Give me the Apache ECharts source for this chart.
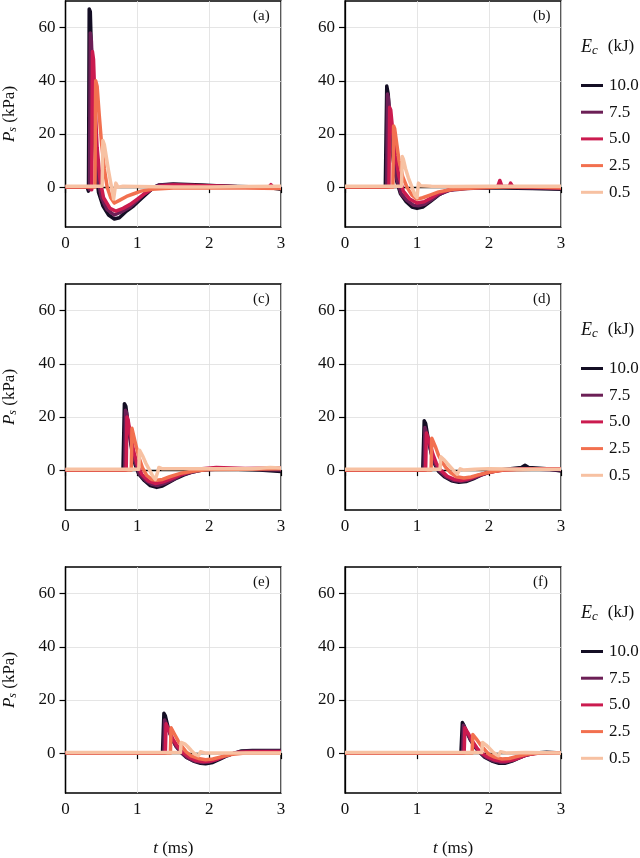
<!DOCTYPE html>
<html>
<head>
<meta charset="utf-8">
<script src="https://cdn.jsdelivr.net/npm/echarts@6/dist/echarts.min.js"></script>
<style>
  html, body { margin: 0; padding: 0; background: #fff; }
  #main { width: 640px; height: 858px; }
</style>
</head>
<body>
<div id="main"></div>
<script>
// energy levels (kJ) and colours
var energies = ['10.0', '7.5', '5.0', '2.5', '0.5'];
var colors = ['#140e24', '#6c1f56', '#cb1b4f', '#f2704f', '#f7c1a2'];
var panelLabels = ['(a)', '(b)', '(c)', '(d)', '(e)', '(f)'];
var xTicks = [0, 1, 2, 3];
var yTicks = [0, 20, 40, 60];

// (a) [t ms, Ps kPa]
var a10 = [[0,0],[0.30,0],[0.32,-1.5],[0.33,67],[0.345,66],[0.37,42],[0.40,20],[0.43,5],[0.46,-2],[0.52,-7],[0.6,-10.5],[0.68,-12],[0.75,-11.5],[0.85,-9],[0.95,-7],[1.05,-4.5],[1.15,-2],[1.22,-0.3],[1.3,0.8],[1.5,1.2],[1.7,1],[1.9,0.8],[2.1,0.5],[2.4,0.2],[2.7,0],[2.9,-0.4],[3,-0.8]];
var a75 = [[0,0],[0.32,0],[0.335,-1],[0.345,58],[0.36,55],[0.39,33],[0.42,14],[0.45,3],[0.5,-4],[0.58,-8.5],[0.68,-10.5],[0.8,-9],[0.9,-7.5],[1.0,-5],[1.1,-2.5],[1.2,-0.5],[1.3,0.8],[1.5,1],[1.8,0.6],[2.1,0.4],[2.5,0],[2.9,-0.2],[3,-0.5]];
var a50 = [[0,0],[0.355,0],[0.365,-1],[0.375,51],[0.39,48],[0.41,32],[0.44,15],[0.48,3],[0.53,-4],[0.62,-8],[0.7,-9],[0.8,-8],[0.9,-6.5],[1.0,-4.5],[1.1,-2.5],[1.2,-0.8],[1.3,0.3],[1.5,0.8],[2.0,0.5],[2.5,0],[2.83,0],[2.86,0.9],[2.89,0],[3,-0.3]];
var a25 = [[0,0],[0.41,0],[0.42,40],[0.44,38],[0.47,27],[0.5,17],[0.54,7],[0.58,0],[0.63,-4],[0.68,-6],[0.75,-5],[0.85,-3.5],[0.95,-2.5],[1.05,-1.5],[1.2,-0.8],[1.5,-0.3],[2.0,-0.3],[2.5,-0.3],[3,-0.5]];
var a05 = [[0,0.3],[0.51,0.3],[0.52,17.5],[0.54,16],[0.57,11],[0.6,6],[0.63,1.5],[0.67,-4.5],[0.7,1.5],[0.73,0],[0.8,0.3],[1.0,0.2],[1.5,0],[2.0,0],[2.5,0.2],[3,0.3]];

// (b)
var b10 = [[0,0],[0.56,0],[0.57,-0.5],[0.58,38],[0.6,35],[0.63,22],[0.67,10],[0.72,2],[0.77,-2.5],[0.85,-5.5],[0.93,-7.5],[1.0,-8],[1.08,-7.5],[1.18,-5.5],[1.3,-3],[1.4,-1.5],[1.55,-0.5],[1.8,-0.2],[2.2,-0.3],[2.6,-0.5],[3,-0.8]];
var b75 = [[0,0],[0.58,0],[0.59,35],[0.6,34],[0.63,25],[0.67,12],[0.72,3],[0.78,-2.5],[0.86,-5],[0.95,-6.8],[1.02,-7],[1.1,-6.5],[1.2,-4.8],[1.3,-2.8],[1.45,-1.2],[1.7,-0.5],[2.2,0],[2.6,-0.3],[3,-0.5]];
var b50 = [[0,0],[0.61,0],[0.62,30],[0.635,29],[0.66,22],[0.7,12],[0.75,4],[0.81,-1.5],[0.9,-4.5],[1.0,-6],[1.1,-5.5],[1.2,-4],[1.3,-2.3],[1.45,-1],[1.7,-0.3],[2.12,0.2],[2.15,2.5],[2.18,0.3],[2.28,0.2],[2.3,1.5],[2.33,0.2],[2.6,0],[3,-0.3]];
var b25 = [[0,0],[0.665,0],[0.675,23],[0.69,22],[0.72,16],[0.75,10],[0.8,4],[0.86,0],[0.93,-3],[1.0,-4.5],[1.08,-4],[1.18,-3],[1.3,-1.8],[1.5,-0.8],[1.8,-0.3],[2.2,0],[2.6,0],[3,-0.2]];
var b05 = [[0,0.3],[0.785,0.3],[0.795,11.5],[0.81,10.5],[0.84,7],[0.88,3.5],[0.93,0],[0.97,-3],[1.0,-4],[1.02,1.5],[1.05,0.5],[1.2,0.3],[1.5,0.2],[2.0,0.3],[2.5,0.3],[3,0.3]];

// (c)
var c10 = [[0,0],[0.8,0],[0.81,-0.5],[0.82,25],[0.84,24],[0.88,15],[0.92,8],[0.97,2],[1.02,-1.5],[1.1,-4],[1.18,-5.8],[1.27,-6.5],[1.35,-6],[1.45,-4.5],[1.55,-3],[1.65,-1.8],[1.75,-0.8],[1.9,0],[2.1,0.5],[2.4,0.3],[2.7,0],[3,-0.5]];
var c75 = [[0,0],[0.825,0],[0.835,22.5],[0.85,21.5],[0.88,16],[0.92,9],[0.97,3],[1.03,-1.5],[1.12,-4],[1.2,-5.3],[1.28,-5.8],[1.38,-5],[1.5,-3.5],[1.6,-2],[1.75,-0.8],[1.9,0],[2.2,0.5],[2.6,0.3],[3,0]];
var c50 = [[0,0],[0.845,0],[0.855,20],[0.87,19],[0.9,14],[0.95,7],[1.0,2],[1.06,-1.5],[1.15,-4],[1.25,-5],[1.35,-4.5],[1.45,-3.5],[1.6,-1.8],[1.75,-0.5],[1.9,0.5],[2.1,1],[2.5,0.6],[3,0.8]];
var c25 = [[0,0],[0.915,0],[0.925,15.7],[0.94,15],[0.97,10.5],[1.02,5],[1.07,1],[1.13,-2],[1.2,-3.5],[1.27,-3.8],[1.35,-3.5],[1.45,-2.5],[1.6,-1.2],[1.8,-0.3],[2.0,0.2],[2.5,0.3],[3,0.5]];
var c05 = [[0,0.3],[1.02,0.3],[1.03,7.5],[1.05,7],[1.08,5],[1.12,2.5],[1.17,0],[1.22,-2.5],[1.25,-3.5],[1.28,-1],[1.3,1],[1.35,0.5],[1.5,0.5],[1.8,0.5],[2.2,0.5],[2.6,0.5],[2.85,1],[3,0.8]];

// (d)
var d10 = [[0,0],[1.08,0],[1.09,-0.5],[1.1,18.6],[1.12,17.5],[1.16,11],[1.2,6],[1.25,2],[1.3,-0.5],[1.38,-2.5],[1.48,-4],[1.58,-4.6],[1.68,-4.3],[1.78,-3.3],[1.88,-2],[2.0,-0.8],[2.15,0],[2.3,0.5],[2.45,1],[2.5,1.8],[2.55,1],[2.8,0.5],[3,-0.3]];
var d75 = [[0,0],[1.1,0],[1.11,16],[1.125,15.5],[1.16,11],[1.2,6.5],[1.25,2.5],[1.3,0],[1.4,-2.5],[1.5,-3.8],[1.6,-4.2],[1.7,-3.8],[1.8,-2.8],[1.9,-1.7],[2.0,-0.8],[2.2,0.2],[2.5,0.5],[3,0]];
var d50 = [[0,0],[1.12,0],[1.13,14],[1.145,13.5],[1.18,10],[1.22,6],[1.27,2.5],[1.33,0],[1.42,-2.3],[1.52,-3.5],[1.62,-3.8],[1.72,-3.3],[1.85,-2],[2.0,-0.8],[2.2,0],[2.5,0.5],[3,0.5]];
var d25 = [[0,0],[1.195,0],[1.205,12],[1.22,11.5],[1.26,8.5],[1.3,5.5],[1.35,3],[1.4,1],[1.47,-1],[1.55,-2.5],[1.65,-3],[1.75,-2.6],[1.85,-1.8],[2.0,-0.8],[2.2,0],[2.6,0.3],[3,0.3]];
var d05 = [[0,0.3],[1.32,0.3],[1.33,5],[1.35,4.8],[1.38,3.8],[1.42,2.5],[1.47,1],[1.52,-0.5],[1.56,-1.5],[1.6,0.5],[1.65,0],[1.8,0.3],[2.0,0.5],[2.5,0.3],[3,0.3]];

// (e)
var e10 = [[0,0],[1.35,0],[1.36,-0.5],[1.37,15],[1.39,14],[1.43,9.5],[1.48,5.5],[1.54,2.5],[1.6,0.5],[1.68,-1.5],[1.78,-3],[1.88,-3.8],[1.95,-4],[2.05,-3.5],[2.15,-2.3],[2.25,-1],[2.35,0],[2.45,0.8],[2.6,1],[2.8,1],[3,1]];
var e75 = [[0,0],[1.37,0],[1.38,12.5],[1.395,12],[1.43,9],[1.48,5.5],[1.54,2.5],[1.62,0],[1.7,-1.8],[1.8,-3],[1.9,-3.5],[2.0,-3.3],[2.1,-2.5],[2.2,-1.3],[2.35,0],[2.5,0.7],[2.8,0.8],[3,0.8]];
var e50 = [[0,0],[1.39,0],[1.4,11],[1.415,10.5],[1.45,8],[1.5,5],[1.56,2.5],[1.63,0.3],[1.72,-1.5],[1.82,-2.8],[1.92,-3.2],[2.02,-3],[2.12,-2.2],[2.25,-0.8],[2.4,0.3],[2.6,0.5],[3,0.5]];
var e25 = [[0,0],[1.46,0],[1.47,9.5],[1.485,9.2],[1.52,7],[1.57,4.5],[1.62,2.5],[1.68,0.5],[1.75,-1],[1.85,-2],[1.95,-2.5],[2.05,-2.2],[2.15,-1.5],[2.3,-0.5],[2.5,0],[3,0]];
var e05 = [[0,0.2],[1.6,0.2],[1.61,4],[1.63,4],[1.66,3.5],[1.7,2.5],[1.75,1],[1.8,-0.3],[1.85,-1],[1.88,0.5],[1.95,0],[2.2,0],[2.5,0],[3,0]];

// (f)
var f10 = [[0,0],[1.61,0],[1.62,-0.5],[1.63,11.5],[1.65,10.5],[1.69,8],[1.74,5],[1.8,2.5],[1.86,0.5],[1.94,-1.5],[2.04,-3],[2.14,-3.8],[2.22,-3.8],[2.32,-3],[2.42,-1.8],[2.52,-0.7],[2.65,0],[2.8,0.3],[3,0]];
var f75 = [[0,0],[1.635,0],[1.645,10.5],[1.66,10],[1.7,7.5],[1.75,4.8],[1.81,2.3],[1.87,0.3],[1.95,-1.4],[2.05,-2.8],[2.15,-3.4],[2.23,-3.4],[2.33,-2.7],[2.43,-1.6],[2.53,-0.6],[2.65,0],[3,0]];
var f50 = [[0,0],[1.655,0],[1.665,9.5],[1.68,9],[1.72,7],[1.77,4.5],[1.83,2],[1.89,0.2],[1.97,-1.3],[2.07,-2.5],[2.17,-3],[2.25,-3],[2.35,-2.4],[2.45,-1.4],[2.55,-0.5],[2.7,0],[3,0]];
var f25 = [[0,0],[1.765,0],[1.775,7],[1.79,6.8],[1.82,5.5],[1.86,4],[1.9,2.5],[1.95,1],[2.0,-0.5],[2.08,-1.5],[2.18,-2.2],[2.28,-2],[2.4,-1.2],[2.55,-0.3],[2.7,0],[3,0]];
var f05 = [[0,0.2],[1.9,0.2],[1.91,4],[1.93,4],[1.96,3],[2.0,2],[2.05,0.5],[2.1,-0.5],[2.13,-1],[2.16,0.5],[2.25,0],[2.5,0.2],[3,0]];

var panels = [
    [a10, a75, a50, a25, a05],
    [b10, b75, b50, b25, b05],
    [c10, c75, c50, c25, c05],
    [d10, d75, d50, d25, d05],
    [e10, e75, e50, e25, e05],
    [f10, f75, f50, f25, f05]
];

var FONT = '"Liberation Serif", "DejaVu Serif", serif';
var rowTops = [1, 284, 567];
var colLefts = [65, 345];
var gw = 216, gh = 226;

var grids = [], xAxes = [], yAxes = [], series = [], graphics = [], legends = [], titles = [];

for (var p = 0; p < 6; p++) {
    var row = Math.floor(p / 2), col = p % 2;
    grids.push({
        left: colLefts[col], top: rowTops[row], width: gw, height: gh,
        show: true, borderColor: '#000', borderWidth: 1.3, backgroundColor: 'transparent'
    });
    xAxes.push({
        gridIndex: p, type: 'value', min: 0, max: 3, interval: 1,
        axisLine: {lineStyle: {color: '#000', width: 1.3}},
        axisTick: {length: 6, lineStyle: {color: '#000', width: 1.2}},
        axisLabel: {color: '#111', fontSize: 17, fontFamily: FONT, margin: 8},
        splitLine: {show: true, lineStyle: {color: '#dedede', width: 0.8}},
        name: row == 2 ? '{i|t} (ms)' : '',
        nameLocation: 'middle', nameGap: 47,
        nameTextStyle: {color: '#111', fontSize: 17, fontFamily: FONT, rich: {i: {fontStyle: 'italic', fontSize: 17, fontFamily: FONT}}}
    });
    yAxes.push({
        gridIndex: p, type: 'value', min: -15, max: 70,
        axisLine: {show: true, lineStyle: {color: '#000', width: 1.3}},
        axisTick: {length: 6, customValues: yTicks, lineStyle: {color: '#000', width: 1.2}},
        axisLabel: {color: '#111', fontSize: 17, fontFamily: FONT, margin: 10, customValues: yTicks},
        splitLine: {show: true, lineStyle: {color: '#dedede', width: 0.8}},
        name: col == 0 ? '{i|P}{s|s} (kPa)' : '',
        nameLocation: 'middle', nameGap: 47, nameRotate: 90,
        nameTextStyle: {color: '#111', fontSize: 17, fontFamily: FONT, rich: {
            i: {fontStyle: 'italic', fontSize: 17, fontFamily: FONT},
            s: {fontStyle: 'italic', fontSize: 12, fontFamily: FONT, verticalAlign: 'bottom', padding: [6, 0, 0, 0]}
        }}
    });
    for (var k = 0; k < 5; k++) {
        series.push({
            name: energies[k], type: 'line', xAxisIndex: p, yAxisIndex: p,
            data: panels[p][k], showSymbol: false, symbol: 'none', clip: true,
            lineStyle: {color: colors[k], width: 3.5, join: 'round'},
            itemStyle: {color: colors[k]}, z: 2 + k
        });
    }
    graphics.push({
        type: 'text', left: colLefts[col] + gw - 28, top: rowTops[row] + 8,
        style: {text: panelLabels[p], font: '15px ' + FONT, fill: '#111'}
    });
}

// legend column beside each right-hand panel
for (var r = 0; r < 3; r++) {
    legends.push({
        orient: 'vertical', left: 576, top: rowTops[r] + 71,
        data: energies, icon: 'rect', itemWidth: 22, itemHeight: 3, itemGap: 9.7,
        selectedMode: false,
        textStyle: {color: '#111', fontSize: 17, fontFamily: FONT, lineHeight: 16, padding: [0, 0, 0, 1]}
    });
    titles.push({
        text: '{e|E}{c|c}  {n|(kJ)}', left: 581, top: rowTops[r] + 36, padding: 0,
        textStyle: {fontWeight: 'normal', rich: {
            e: {fontStyle: 'italic', fontWeight: 'normal', fontSize: 18, fontFamily: FONT, color: '#111'},
            c: {fontStyle: 'italic', fontWeight: 'normal', fontSize: 13, fontFamily: FONT, color: '#111', verticalAlign: 'bottom', padding: [7, 0, 0, 0]},
            n: {fontWeight: 'normal', fontSize: 17, fontFamily: FONT, color: '#111'}
        }}
    });
}

var myChart = echarts.init(document.getElementById('main'), null, {renderer: 'canvas'});
myChart.setOption({
    animation: false,
    backgroundColor: '#fff',
    title: titles,
    grid: grids,
    xAxis: xAxes,
    yAxis: yAxes,
    legend: legends,
    series: series,
    graphic: graphics
});
</script>
</body>
</html>
